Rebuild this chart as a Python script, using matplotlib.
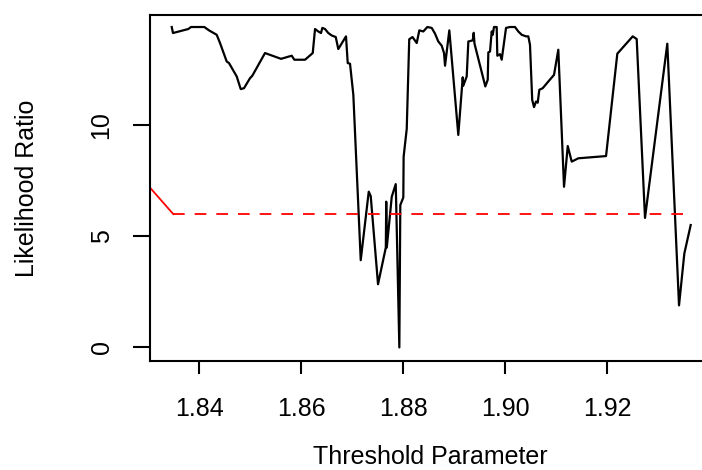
import matplotlib
matplotlib.use("Agg")
import matplotlib.pyplot as plt

plt.rcParams["font.family"] = ["Liberation Sans", "DejaVu Sans"]
plt.rcParams["lines.scale_dashes"] = False

# threshold grid and likelihood-ratio statistic
threshold = [
    1.83459, 1.83484, 1.83784, 1.83837, 1.84098, 1.84190, 1.84341, 1.84406,
    1.84537, 1.84582, 1.84733, 1.84812, 1.84876, 1.84994, 1.85039, 1.85288,
    1.85602, 1.85812, 1.85863, 1.86073, 1.86224, 1.86269, 1.86333, 1.86386,
    1.86412, 1.86465, 1.86529, 1.86596, 1.86675, 1.86725, 1.86876, 1.86910,
    1.86955, 1.87020, 1.87165, 1.87322, 1.87361, 1.87504, 1.87657, 1.87665,
    1.87676, 1.87773, 1.87851, 1.87861, 1.87922, 1.87941, 1.88000, 1.88006,
    1.88067, 1.88116, 1.88180, 1.88263, 1.88314, 1.88392, 1.88471, 1.88557,
    1.88622, 1.88686, 1.88753, 1.88798, 1.88818, 1.88902, 1.89078, 1.89165,
    1.89176, 1.89243, 1.89275, 1.89361, 1.89380, 1.89396, 1.89608, 1.89655,
    1.89667, 1.89700, 1.89733, 1.89753, 1.89778, 1.89831, 1.89843, 1.89896,
    1.89929, 1.90014, 1.90092, 1.90190, 1.90255, 1.90322, 1.90406, 1.90451,
    1.90484, 1.90527, 1.90563, 1.90602, 1.90635, 1.90667, 1.90733, 1.90843,
    1.90955, 1.91039, 1.91151, 1.91224, 1.91302, 1.91431, 1.91975, 1.92196,
    1.92498, 1.92576, 1.92739, 1.93176, 1.93406, 1.93510, 1.93635,
]
lik_ratio = [
    14.40, 14.13, 14.31, 14.40, 14.40, 14.25, 14.05, 13.68,
    12.85, 12.78, 12.18, 11.61, 11.65, 12.10, 12.21, 13.23,
    12.97, 13.11, 12.93, 12.93, 13.23, 14.31, 14.20, 14.13,
    14.36, 14.31, 14.13, 14.02, 13.95, 13.41, 13.98, 12.78,
    12.75, 11.35, 3.92, 7.00, 6.80, 2.84, 4.49, 6.55,
    4.49, 6.77, 7.34, 6.40, 0.00, 6.40, 6.74, 8.57,
    9.82, 13.85, 13.95, 13.68, 14.25, 14.20, 14.40, 14.36,
    14.10, 13.75, 13.56, 13.23, 12.66, 14.25, 9.55, 12.14,
    11.76, 12.18, 13.75, 13.80, 14.14, 13.65, 11.73, 12.03,
    13.26, 13.30, 14.20, 14.05, 14.40, 14.40, 13.11, 13.18,
    12.93, 14.36, 14.40, 14.40, 14.20, 14.05, 13.98, 13.98,
    13.60, 11.13, 10.80, 11.05, 11.00, 11.58, 11.65, 11.95,
    12.25, 13.38, 7.22, 9.05, 8.35, 8.50, 8.60, 13.20,
    13.98, 13.86, 5.82, 13.65, 1.89, 4.22, 5.50,
]

# red solid piece on the left and the dashed critical value
red_x = [1.8303, 1.8349]
red_y = [7.19, 5.99]
crit_value = 5.99
crit_from, crit_to = 1.8349, 1.9354

x_ticks = [1.84, 1.86, 1.88, 1.90, 1.92]
x_tick_labels = ["1.84", "1.86", "1.88", "1.90", "1.92"]
y_ticks = [0, 5, 10]
y_tick_labels = ["0", "5", "10"]

W, H = 702, 470
fig = plt.figure(figsize=(W / 100, H / 100), dpi=100)
# the right edge of the box lies just outside the picture, as in the original
ax = fig.add_axes([150 / W, (H - 361) / H, (711 - 150) / W, (361 - 15) / H])

ax.plot(threshold, lik_ratio, color="black", lw=1.6)
ax.plot(red_x, red_y, color="red", lw=1.3)
ax.plot([crit_from, crit_to], [crit_value, crit_value], color="red", lw=1.3,
        linestyle=(0, (8.4, 7.2)))

ax.set_xlim(1.83033, 1.94033)
ax.set_ylim(-0.61, 14.94)

for side in ["left", "bottom", "top", "right"]:
    ax.spines[side].set_linewidth(1.5)

ax.set_xticks(x_ticks)
ax.set_xticklabels(x_tick_labels, fontsize=18)
ax.set_yticks(y_ticks)
ax.set_yticklabels(y_tick_labels, fontsize=18, rotation=90, va="center")
ax.tick_params(axis="x", length=9.4, width=1.5, pad=16.4)
ax.tick_params(axis="y", length=12.2, width=1.5, pad=14.0)

ax.set_xlabel("Threshold Parameter", fontsize=18)
ax.xaxis.set_label_coords((430 - 150) / 561, -0.2428)
ax.set_ylabel("Likelihood Ratio", fontsize=18)
ax.yaxis.label.set_va("center")
ax.yaxis.set_label_coords((27 - 150) / 561, 0.5)

fig.savefig("out.png", dpi=100)
